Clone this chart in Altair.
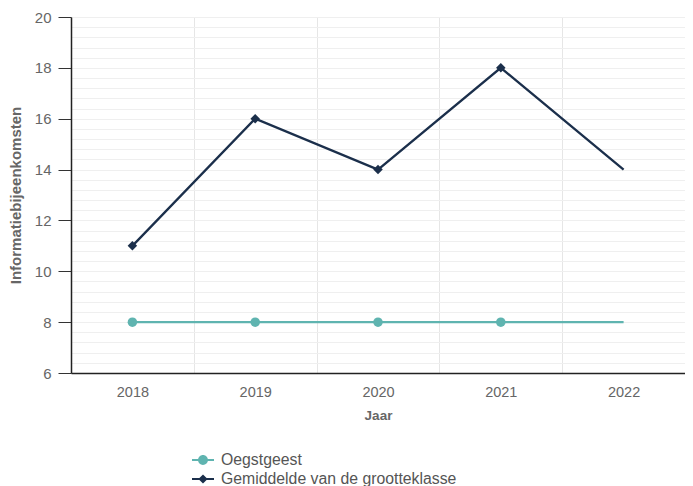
import altair as alt
import pandas as pd

years = ["2018", "2019", "2020", "2021", "2022"]
oegstgeest = [8, 8, 8, 8, 8]
gemiddelde = [11, 16, 14, 18, 14]
marker_years = ["2018", "2019", "2020", "2021"]
series_names = ["Oegstgeest", "Gemiddelde van de grootteklasse"]
colors = ["#5fb4b0", "#1b2f4b"]
y_major = [6, 8, 10, 12, 14, 16, 18, 20]
y_minor = [round(6 + 0.4 * i, 1) for i in range(36)]

rows = []
for name, vals in zip(series_names, [oegstgeest, gemiddelde]):
    for yr, v in zip(years, vals):
        rows.append({"Jaar": yr, "value": v, "series": name})
df = pd.DataFrame(rows)

FONT = "Liberation Sans"

xenc = alt.X(
    "Jaar:O",
    bandPosition=0.5,
    scale=alt.Scale(type="band", paddingInner=0, paddingOuter=0),
    axis=alt.Axis(
        title="Jaar", titleFontWeight="bold", titleFontSize=13.5, titleColor="#666666",
        titleFont=FONT, titlePadding=10,
        labelAngle=0, labelFont=FONT, labelFontSize=14.5, labelColor="#666666", labelPadding=12,
        ticks=False, domainColor="#222222", domainWidth=1.5,
        grid=True, tickBand="extent", gridColor="#e6e6e6", gridWidth=1,
    ),
)
yscale = alt.Scale(domain=[6, 20], nice=False, zero=False)
color_scale = alt.Scale(domain=series_names, range=colors)
color = alt.Color("series:N", scale=color_scale, legend=None)

circle_path = "M-1,-0.1H1V0.1H-1Z M-0.45,0 A0.45,0.45 0 1,1 0.45,0 A0.45,0.45 0 1,1 -0.45,0Z"
diamond_path = "M-1,-0.1H1V0.1H-1Z M0,-0.42 L0.42,0 L0,0.42 L-0.42,0Z"

legend_cfg = dict(
    title=None, orient="none", legendX=121, legendY=432,
    labelFont=FONT, labelFontSize=15.8, labelColor="#555555", labelLimit=400,
    symbolOpacity=1, symbolStrokeWidth=0, symbolSize=484, rowPadding=-4,
    labelOffset=7,
)

legend_layer = alt.Chart(df).mark_point(filled=True, size=484, clip=True).encode(
    x=xenc,
    y=alt.value(-200),
    color=alt.Color("series:N", scale=color_scale, legend=alt.Legend(**legend_cfg)),
    shape=alt.Shape(
        "series:N",
        scale=alt.Scale(domain=series_names, range=[circle_path, diamond_path]),
        legend=alt.Legend(**legend_cfg),
    ),
)

minor = alt.Chart(df).mark_line(opacity=0).encode(
    x=xenc,
    y=alt.Y(
        "value:Q", scale=yscale,
        axis=alt.Axis(
            orient="right", values=y_minor, labels=False, ticks=False, domain=False,
            title=None, grid=True, gridColor="#efefef", gridWidth=1,
        ),
    ),
)

lines = alt.Chart(df).mark_line(strokeWidth=2.3).encode(
    x=xenc,
    y=alt.Y(
        "value:Q", scale=yscale,
        axis=alt.Axis(
            title="Informatiebijeenkomsten", titleFontWeight="bold", titleFontSize=15,
            titleColor="#666666", titleFont=FONT, titlePadding=11,
            values=y_major, labelFont=FONT, labelFontSize=15, labelColor="#666666",
            labelPadding=7, tickSize=13, tickColor="#333333", domainColor="#222222",
            domainWidth=1.5, gridColor="#e6e6e6", gridWidth=1.5,
        ),
    ),
    color=color,
)

pts = alt.Chart(df).transform_filter(
    alt.FieldOneOfPredicate(field="Jaar", oneOf=marker_years)
).mark_point(filled=True, opacity=1, size=90).encode(
    x=xenc,
    y=alt.Y("value:Q", scale=yscale, axis=None),
    color=color,
    shape=alt.Shape("series:N", scale=alt.Scale(domain=series_names, range=["circle", "diamond"]), legend=None),
)

chart = alt.layer(legend_layer, minor, lines, pts).resolve_scale(
    shape="independent", color="independent"
).resolve_axis(y="independent").properties(
    width=614, height=356,
    autosize=alt.AutoSizeParams(type="none"),
    padding={"left": 63, "top": 9, "right": 0, "bottom": 113},
).configure_view(stroke=None).configure(background="white")

chart.save("out.html", embed_options={"renderer": "svg", "actions": False})
